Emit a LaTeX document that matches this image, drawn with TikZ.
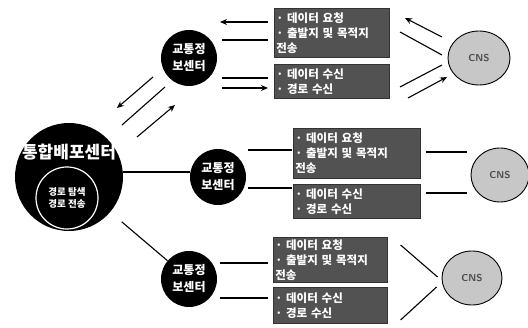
\documentclass[tikz,border=0pt]{standalone}
\usepackage{fontspec}
\newfontfamily\kr{Noto Sans CJK KR}
\usetikzlibrary{arrows.meta,shapes.geometric}
\tikzset{
  hubc/.style={circle,fill=black,minimum size=108pt,inner sep=0pt},
  innerc/.style={circle,draw=white,line width=1.2pt,minimum size=62pt,inner sep=0pt,text=white,font=\kr\bfseries\fontsize{9.5}{12.5}\selectfont,align=center},
  centerc/.style={circle,fill=black,minimum size=56pt,inner sep=0pt,text=white,font=\kr\bfseries\fontsize{12}{17}\selectfont,align=center},
  databox/.style={rectangle,fill=black!68,draw=black!80,line width=0.6pt,inner sep=2pt,text=white,font=\kr\bfseries\fontsize{11.5}{15}\selectfont,align=left,anchor=north west},
  cns/.style={ellipse,draw=black,line width=0.9pt,fill=black!22,inner sep=0pt,text=black!70,font=\sffamily\bfseries\fontsize{10}{12}\selectfont},
  conn/.style={line width=1.1pt},
  arr/.style={line width=1.1pt,-{Stealth[length=7pt,width=6pt]}}
}
\begin{document}
\begin{tikzpicture}[x=1pt,y=-1pt]
\useasboundingbox (0,0) rectangle (528,328);
% hub
\node[hubc] (hub) at (69,177) {};
\node[text=white,font=\kr\bfseries\fontsize{17}{20}\selectfont,inner sep=0pt] (hubtxt) at (69,152) {통합배포센터};
\node[innerc] (inner) at (67,198) {경로 탐색\\경로 전송};
% centers
\node[centerc] (c1) at (189,58) {교통정\\보센터};
\node[centerc] (c2) at (218,177) {교통정\\보센터};
\node[centerc] (c3) at (189,279) {교통정\\보센터};
% boxes
\node[databox,minimum width=115pt,minimum height=49pt,text width=111pt] (b1) at (274,8) {· 데이터 요청\\· 출발지 및 목적지\\전송};
\node[databox,minimum width=115pt,minimum height=34pt,text width=111pt] (b2) at (274,64) {· 데이터 수신\\· 경로 수신};
\node[databox,minimum width=127pt,minimum height=50pt,text width=123pt] (b3) at (293,128) {· 데이터 요청\\· 출발지 및 목적지\\전송};
\node[databox,minimum width=127pt,minimum height=34pt,text width=123pt] (b4) at (293,184) {· 데이터 수신\\· 경로 수신};
\node[databox,minimum width=114pt,minimum height=45pt,text width=110pt] (b5) at (273,237) {· 데이터 요청\\· 출발지 및 목적지\\전송};
\node[databox,minimum width=114pt,minimum height=36pt,text width=110pt] (b6) at (273,287) {· 데이터 수신\\· 경로 수신};
% CNS ellipses
\node[cns,minimum width=62pt,minimum height=54pt] (e1) at (479,58) {CNS};
\node[cns,minimum width=58pt,minimum height=54pt] (e2) at (500,175) {CNS};
\node[cns,minimum width=60pt,minimum height=54pt] (e3) at (472,278) {CNS};
% floating connector ends
\coordinate (h1a) at (153,77);  \coordinate (h1b) at (117,108);
\coordinate (h2a) at (165,87);  \coordinate (h2b) at (122,125);
\coordinate (h3a) at (137,137); \coordinate (h3b) at (175,105);
\coordinate (t1a) at (268,22);  \coordinate (t1b) at (220,22);
\coordinate (t2a) at (222,40);  \coordinate (t2b) at (268,40);
\coordinate (t3a) at (222,78);  \coordinate (t3b) at (268,78);
\coordinate (t4a) at (222,88);  \coordinate (t4b) at (268,88);
\coordinate (r1a) at (442,37);  \coordinate (r1b) at (405,18);
\coordinate (r2a) at (400,32);  \coordinate (r2b) at (442,55);
\coordinate (r3a) at (400,87);  \coordinate (r3b) at (442,65);
\coordinate (r4a) at (408,98);  \coordinate (r4b) at (447,77);
% hub <-> c1
\draw[arr] (h1a) -- (h1b);
\draw[conn] (h2a) -- (h2b);
\draw[arr] (h3a) -- (h3b);
% c1 <-> boxes
\draw[arr] (t1a) -- (t1b);
\draw[conn] (t2a) -- (t2b);
\draw[conn] (t3a) -- (t3b);
\draw[arr] (t4a) -- (t4b);
% boxes <-> e1
\draw[arr] (r1a) -- (r1b);
\draw[conn] (r2a) -- (r2b);
\draw[conn] (r3a) -- (r3b);
\draw[arr] (r4a) -- (r4b);
% hub -- c2
\draw[conn] (hub.east |- 0,172) -- (c2.west |- 0,172);
% c2 -- boxes
\draw[conn] ([xshift=2pt]c2.east |- 0,150) -- ([xshift=-1pt]b3.west |- 0,150);
\draw[conn] ([xshift=2pt]c2.east |- 0,188) -- ([xshift=-1pt]b4.west |- 0,188);
% boxes -- e2
\draw[conn] ([xshift=5pt]b3.east |- 0,152) -- ([xshift=-4pt]e2.west |- 0,152);
\draw[conn] ([xshift=5pt]b4.east |- 0,193) -- ([xshift=-4pt]e2.west |- 0,193);
% hub -- c3
\draw[conn,shorten <=15pt] (hub) -- (c3);
% c3 -- boxes
\draw[conn] ([xshift=3pt]c3.east |- 0,263) -- ([xshift=-5pt]b5.west |- 0,263);
\draw[conn] ([xshift=3pt]c3.east |- 0,298) -- ([xshift=-5pt]b6.west |- 0,298);
% boxes -- e3
\draw[conn] ([xshift=13pt]b5.north east |- 0,245) -- ([xshift=-4pt]e3.west |- 0,277);
\draw[conn] ([xshift=13pt]b6.south east |- 0,320) -- ([xshift=-5pt]e3.west |- 0,287);
\end{tikzpicture}
\end{document}
